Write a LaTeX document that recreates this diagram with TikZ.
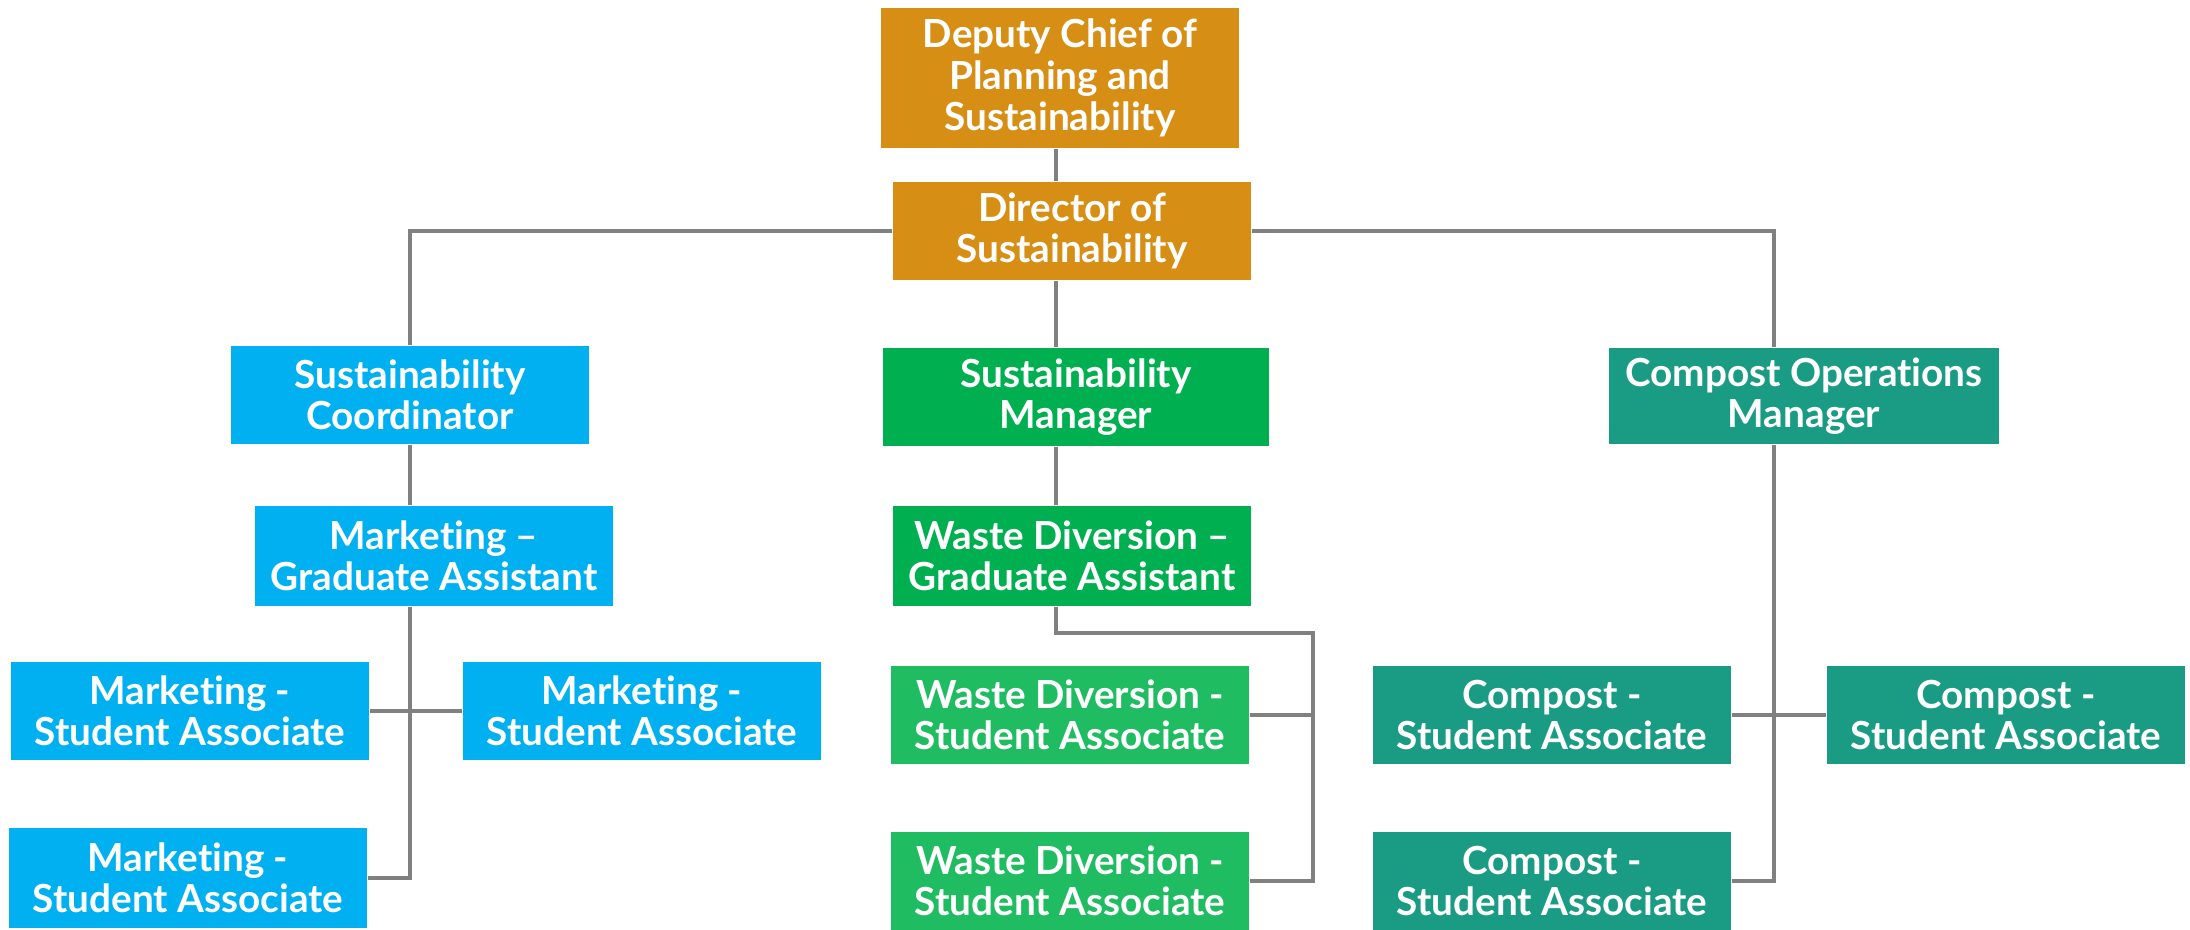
\documentclass[tikz,border=0pt]{standalone}
\usepackage{fontspec}
\setmainfont{Lato}[Ligatures=NoCommon]
\usepackage{tikz}
\usetikzlibrary{positioning,shapes}

\definecolor{chiefor}{HTML}{D68E15}
\definecolor{mktblue}{HTML}{00B0F0}
\definecolor{mgrgreen}{HTML}{00B050}
\definecolor{wstgreen}{HTML}{20BC62}
\definecolor{cmpteal}{HTML}{1A9B83}
\definecolor{linegray}{HTML}{808080}

\tikzset{
  box/.style={rectangle,inner sep=0pt,align=center,text=white,
    font=\fontsize{11}{11.7}\selectfont\bfseries,minimum width=3.58cm,minimum height=0.98cm},
  link/.style={draw=linegray,line width=1.3pt}
}

\begin{document}
\begin{tikzpicture}[x=0.01cm,y=-0.01cm]
\useasboundingbox (0,0) rectangle (2190,930);
\node[box,fill=chiefor,minimum height=1.4cm] (dep) at (1060,78) {Deputy Chief of\\Planning and\\Sustainability};
\node[box,fill=chiefor] (dir) at (1072,231) {Director of\\Sustainability};
\node[box,fill=mktblue] (coord) at (410,395) {Sustainability\\Coordinator};
\node[box,fill=mgrgreen,minimum width=3.86cm] (mgr) at (1076,397) {Sustainability\\Manager};
\node[box,fill=cmpteal,minimum width=3.9cm,minimum height=0.96cm] (cops) at (1804,396) {Compost Operations\\Manager};
\node[box,fill=mktblue,minimum height=1cm] (mga) at (434,556) {Marketing --\\Graduate Assistant};
\node[box,fill=mgrgreen,minimum height=1cm] (wga) at (1072,556) {Waste Diversion --\\Graduate Assistant};
\node[box,fill=mktblue] (msaa) at (190,711) {Marketing -\\Student Associate};
\node[box,fill=mktblue] (msab) at (642,711) {Marketing -\\Student Associate};
\node[box,fill=mktblue,minimum height=1cm] (msac) at (188,878) {Marketing -\\Student Associate};
\node[box,fill=wstgreen] (wsaa) at (1070,715) {Waste Diversion -\\Student Associate};
\node[box,fill=wstgreen] (wsab) at (1070,881) {Waste Diversion -\\Student Associate};
\node[box,fill=cmpteal] (csaa) at (1552,715) {Compost -\\Student Associate};
\node[box,fill=cmpteal] (csab) at (2006,715) {Compost -\\Student Associate};
\node[box,fill=cmpteal] (csac) at (1552,881) {Compost -\\Student Associate};

\coordinate (trunk) at (1056,0);
\coordinate (wbus) at (1313,633);
\coordinate (cbus) at (1774,236);

\draw[link] (dep.south -| trunk) -- (dir.north -| trunk);
\draw[link] (dir.south -| trunk) -- (mgr.north -| trunk);
\draw[link] (mgr.south -| trunk) -- (wga.north -| trunk);
\draw[link] (dir.west) -| (coord.north);
\draw[link] (dir.east) -- (dir.east -| cbus) -- (cops.north -| cbus);
\draw[link] (coord.south) -- (mga.north -| coord.south);
\draw[link] (mga.south -| coord.south) |- (msac.east);
\draw[link] (msaa.east) -- (msab.west);
\draw[link] (wga.south -| trunk) |- (wbus) |- (wsab.east);
\draw[link] (wsaa.east) -- (wsaa.east -| wbus);
\draw[link] (cops.south -| cbus) |- (csac.east);
\draw[link] (csaa.east) -- (csab.west);
\end{tikzpicture}
\end{document}
